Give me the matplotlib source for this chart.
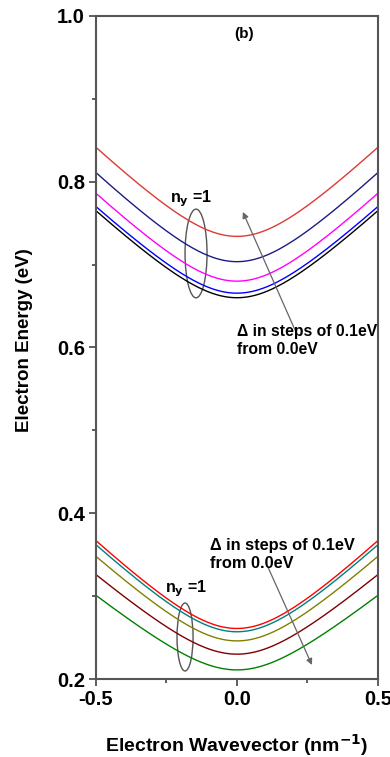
import matplotlib
matplotlib.use("Agg")
import matplotlib.pyplot as plt
import numpy as np
from matplotlib.patches import Ellipse

plt.rcParams["font.family"] = ["Liberation Sans", "DejaVu Sans"]
plt.rcParams["font.weight"] = "bold"
plt.rcParams["mathtext.default"] = "bf"

# band energies (eV): minimum at k=0 and value at the zone edge k=±0.5 nm^-1
upper_colors = ["#dd3a33", "#1c1c85", "#ff00ff", "#0000ff", "#000000"]
upper_emin = [0.734, 0.7035, 0.680, 0.6655, 0.660]
upper_eedge = [0.8415, 0.811, 0.786, 0.770, 0.765]

lower_colors = ["#ff0000", "#008080", "#808000", "#800000", "#008000"]
lower_emin = [0.261, 0.257, 0.246, 0.230, 0.211]
lower_eedge = [0.367, 0.362, 0.348, 0.326, 0.301]

# non-parabolicity of the dispersion
gamma = 5.0

k = np.linspace(-0.5, 0.5, 301)


def band(emin, eedge):
    shape = (np.sqrt(1 + gamma * (k / 0.5) ** 2) - 1) / (np.sqrt(1 + gamma) - 1)
    return emin + (eedge - emin) * shape


fig = plt.figure(figsize=(3.9, 7.57), dpi=100)
ax = fig.add_axes([0.246, 0.103, 0.723, 0.876])

for c, e0, e1 in zip(upper_colors, upper_emin, upper_eedge):
    ax.plot(k, band(e0, e1), color=c, lw=1.0)
for c, e0, e1 in zip(lower_colors, lower_emin, lower_eedge):
    ax.plot(k, band(e0, e1), color=c, lw=1.0)

ax.set_xlim(-0.5, 0.5)
ax.set_ylim(0.2, 1.0)
ax.set_xticks([-0.5, 0.0, 0.5])
ax.set_xticklabels(["-0.5", "0.0", "0.5"])
ax.set_xticks([-0.25, 0.25], minor=True)
ax.set_yticks([0.2, 0.4, 0.6, 0.8, 1.0])
ax.set_yticklabels(["0.2", "0.4", "0.6", "0.8", "1.0"])
ax.set_yticks([0.3, 0.5, 0.7, 0.9], minor=True)
ax.tick_params(which="both", direction="out", color="#444444", width=1.2)
ax.tick_params(which="major", length=5, labelsize=14.5, pad=3)
ax.tick_params(which="minor", length=3)
for sp in ax.spines.values():
    sp.set_color("#555555")
    sp.set_linewidth(1.5)

ax.set_xlabel("Electron Wavevector (nm$^{-1}$)", fontsize=14,
              fontweight="bold", va="center")
ax.xaxis.set_label_coords(0.5, -0.0995)
ax.set_ylabel("Electron Energy (eV)", fontsize=13.5, fontweight="bold",
              va="center")
ax.yaxis.set_label_coords(-0.255, 0.511)

ax.text(0.025, 0.978, "(b)", fontsize=11, fontweight="bold",
        ha="center", va="center")

# upper group annotations
ax.text(-0.238, 0.779, "n$_{y}$ =1", fontsize=11.5, fontweight="bold",
        ha="left", va="center")
ax.add_patch(Ellipse((-0.145, 0.7134), 0.078, 0.107, fill=False,
                     ec="#555555", lw=1.0))
ax.annotate("", xy=(0.021, 0.7635), xytext=(0.206, 0.621),
            arrowprops=dict(arrowstyle="-|>", color="#666666", lw=0.9,
                            mutation_scale=9, shrinkA=0, shrinkB=0))
ax.text(0.0, 0.609, "\u0394 in steps of 0.1eV\nfrom 0.0eV", fontsize=11.3,
        fontweight="bold", ha="left", va="center", linespacing=1.25)

# lower group annotations
ax.text(-0.255, 0.309, "n$_{y}$ =1", fontsize=11.5, fontweight="bold",
        ha="left", va="center")
ax.add_patch(Ellipse((-0.184, 0.2507), 0.057, 0.082, fill=False,
                     ec="#555555", lw=1.0))
ax.annotate("", xy=(0.266, 0.217), xytext=(0.110, 0.335),
            arrowprops=dict(arrowstyle="-|>", color="#666666", lw=0.9,
                            mutation_scale=9, shrinkA=0, shrinkB=0))
ax.text(-0.096, 0.3497, "\u0394 in steps of 0.1eV\nfrom 0.0eV", fontsize=11.8,
        fontweight="bold", ha="left", va="center", linespacing=1.25)

fig.savefig("out.png", dpi=100)
